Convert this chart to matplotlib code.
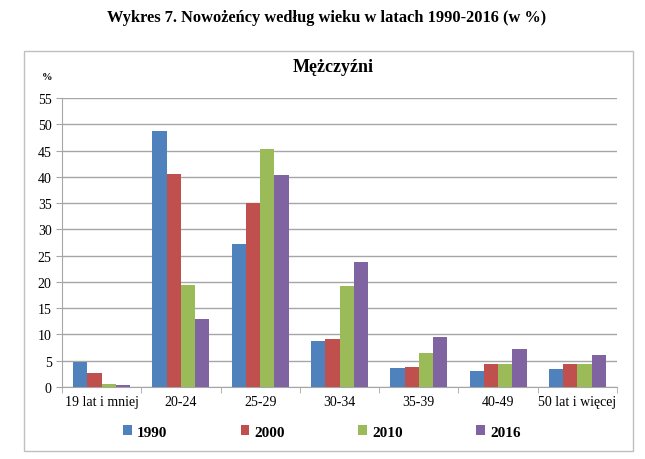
import matplotlib.pyplot as plt
import numpy as np
from matplotlib.patches import Rectangle

# Data
categories = ['19 lat i mniej', '20-24', '25-29', '30-34', '35-39', '40-49', '50 lat i więcej']
years = ['1990', '2000', '2010', '2016']
v1990 = [4.8, 48.7, 27.2, 8.8, 3.7, 3.0, 3.5]
v2000 = [2.7, 40.6, 35.1, 9.1, 3.8, 4.3, 4.4]
v2010 = [0.6, 19.4, 45.2, 19.3, 6.5, 4.4, 4.3]
v2016 = [0.3, 12.9, 40.3, 23.7, 9.5, 7.2, 6.0]
series = [v1990, v2000, v2010, v2016]
colors = ['#4F81BD', '#C0504D', '#9BBB59', '#8064A2']

plt.rcParams['font.family'] = ['Liberation Serif', 'DejaVu Serif']

fig = plt.figure(figsize=(6.45, 4.6), dpi=100)
W, H = 645, 460

# outer chart frame
fig.patches.append(Rectangle((24 / W, 1 - 452 / H), (633 - 24) / W, (452 - 52) / H,
                             transform=fig.transFigure, fill=False,
                             edgecolor='#BFBFBF', linewidth=1))

fig.text(327 / W, 1 - 18 / H, 'Wykres 7. Nowożeńcy według wieku w latach 1990-2016 (w %)',
         ha='center', va='center', fontsize=11.8, fontweight='bold')
fig.text(333 / W, 1 - 68 / H, 'Mężczyźni', ha='center', va='center',
         fontsize=13, fontweight='bold')
fig.text(47 / W, 1 - 78 / H, '%', ha='center', va='center', fontsize=7.5, fontweight='bold')

ax = fig.add_axes([62 / W, 1 - 388 / H, (617 - 62) / W, (388 - 99) / H])

x = np.arange(len(categories))
bw = 0.18
for i, (vals, yr, c) in enumerate(zip(series, years, colors)):
    ax.bar(x + (i - 1.5) * bw, vals, bw, color=c, label=yr, zorder=3)

ax.set_xlim(-0.5, len(categories) - 0.5)
ax.set_ylim(0, 55)
ax.set_yticks(np.arange(0, 56, 5))
ax.yaxis.grid(True, color='#A6A6A6', linewidth=1, zorder=0)
ax.set_axisbelow(True)

ax.set_xticks(x)
ax.set_xticklabels(categories, fontsize=10)
ax.tick_params(axis='x', length=0, pad=6)
ax.set_xticks(np.arange(-0.5, len(categories), 1), minor=True)
ax.tick_params(axis='x', which='minor', length=4, color='#A6A6A6', direction='out')
ax.tick_params(axis='y', labelsize=10, length=4, color='#A6A6A6', direction='out')

for s in ['top', 'right']:
    ax.spines[s].set_visible(False)
ax.spines['left'].set_color('#A6A6A6')
ax.spines['bottom'].set_color('#A6A6A6')

leg = fig.legend(loc='center', bbox_to_anchor=(322 / W, 1 - 433 / H), ncol=4,
                 frameon=False, handlelength=0.55, handleheight=0.55,
                 handletextpad=0.35, columnspacing=4.8,
                 prop={'weight': 'bold', 'size': 11})

fig.savefig('out.png', dpi=100)
